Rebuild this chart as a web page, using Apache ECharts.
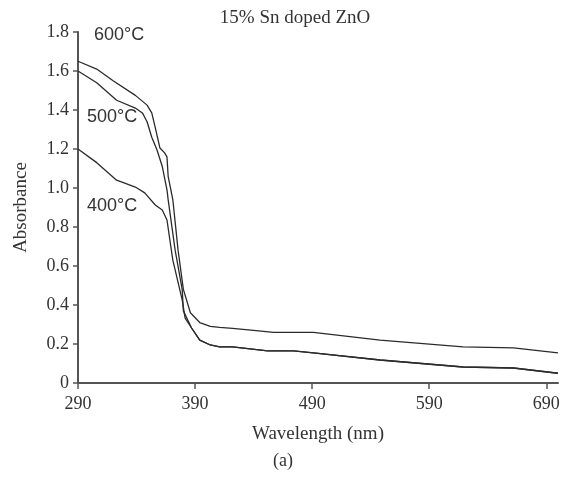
<!DOCTYPE html>
<html>
<head>
<meta charset="utf-8">
<script src="https://cdn.jsdelivr.net/npm/echarts@6/dist/echarts.min.js"></script>
<style>
  html, body { margin: 0; padding: 0; background: #fff; }
  #chart { width: 570px; height: 483px; }
</style>
</head>
<body>
<div id="chart"></div>
<script>
// wavelength (nm), absorbance pairs
const curve600 = [
  [290, 1.65], [306, 1.61], [320, 1.55], [339, 1.475], [349, 1.425], [353, 1.385],
  [356, 1.31], [360, 1.205], [364, 1.18], [366, 1.16], [367, 1.06], [371, 0.94],
  [375.5, 0.68], [380, 0.48], [386, 0.36], [394, 0.31], [403, 0.29], [411, 0.285],
  [422, 0.28], [440, 0.27], [457, 0.26], [491, 0.26], [548, 0.22], [619, 0.185],
  [662, 0.18], [700, 0.155]
]
const curve500 = [
  [290, 1.60], [306, 1.54], [323, 1.45], [339, 1.41], [345, 1.385], [349, 1.34],
  [353, 1.26], [357.5, 1.195], [362, 1.11], [366, 0.99], [367, 0.94], [373, 0.68],
  [379, 0.48], [380, 0.37], [387, 0.282], [394, 0.22], [403, 0.195], [411, 0.185],
  [422, 0.185], [452, 0.165], [474, 0.165], [491, 0.155], [548, 0.118], [619, 0.082],
  [662, 0.077], [700, 0.05]
]
const curve400 = [
  [290, 1.20], [306, 1.13], [323, 1.04], [339, 1.005], [347, 0.975], [356, 0.913],
  [362, 0.887], [363, 0.877], [366, 0.836], [371, 0.63], [379, 0.426], [381.5, 0.333],
  [387, 0.282], [394, 0.22], [403, 0.195], [411, 0.185], [422, 0.185], [452, 0.165],
  [474, 0.165], [491, 0.155], [548, 0.118], [619, 0.082], [662, 0.077], [700, 0.05]
]
const xTicks = [290, 390, 490, 590, 690]
const curveLabels = ['600°C', '500°C', '400°C']

const chart = echarts.init(document.getElementById('chart'))

const axisColor = '#555'
const textColor = '#333'
const serif = '"Liberation Serif", "Times New Roman", serif'
const sansFont = '18px "Liberation Sans", sans-serif'

const lineSeries = (data) => ({
  type: 'line',
  data: data,
  symbol: 'none',
  smooth: false,
  lineStyle: { color: '#2b2b2b', width: 1.3 }
})

chart.setOption({
  backgroundColor: '#fff',
  animation: false,
  title: {
    text: '15% Sn doped ZnO',
    left: 290,
    top: 4,
    textAlign: 'center',
    textStyle: { fontFamily: serif, fontSize: 19, fontWeight: 'normal', color: textColor }
  },
  grid: { left: 78, right: 12, top: 32, bottom: 100, containLabel: false },
  xAxis: {
    type: 'value',
    min: 290,
    max: 700,
    name: 'Wavelength (nm)',
    nameLocation: 'middle',
    nameGap: 42,
    nameTextStyle: { fontFamily: serif, fontSize: 19, color: textColor },
    axisLine: { show: true, lineStyle: { color: axisColor, width: 2 } },
    axisTick: { show: true, length: 6, lineStyle: { color: axisColor, width: 1.5 }, customValues: xTicks },
    axisLabel: { fontFamily: serif, fontSize: 18, color: textColor, margin: 12, customValues: xTicks },
    splitLine: { show: false }
  },
  yAxis: {
    type: 'value',
    min: 0,
    max: 1.8,
    interval: 0.2,
    name: 'Absorbance',
    nameLocation: 'middle',
    nameGap: 47,
    nameTextStyle: { fontFamily: serif, fontSize: 19, color: textColor },
    axisLine: { show: true, lineStyle: { color: axisColor, width: 2 } },
    axisTick: { show: true, length: 5, lineStyle: { color: axisColor, width: 1.5 } },
    axisLabel: {
      fontFamily: serif, fontSize: 18, color: textColor, margin: 9,
      formatter: (v) => v === 0 ? '0' : v.toFixed(1)
    },
    splitLine: { show: false }
  },
  graphic: [
    { type: 'text', left: 94, top: 26, style: { text: curveLabels[0], font: sansFont, fill: textColor } },
    { type: 'text', left: 87, top: 108, style: { text: curveLabels[1], font: sansFont, fill: textColor } },
    { type: 'text', left: 87, top: 197, style: { text: curveLabels[2], font: sansFont, fill: textColor } },
    { type: 'text', left: 273, top: 452, style: { text: '(a)', font: '18px "Liberation Serif", serif', fill: textColor } }
  ],
  series: [lineSeries(curve600), lineSeries(curve500), lineSeries(curve400)]
})
</script>
</body>
</html>
